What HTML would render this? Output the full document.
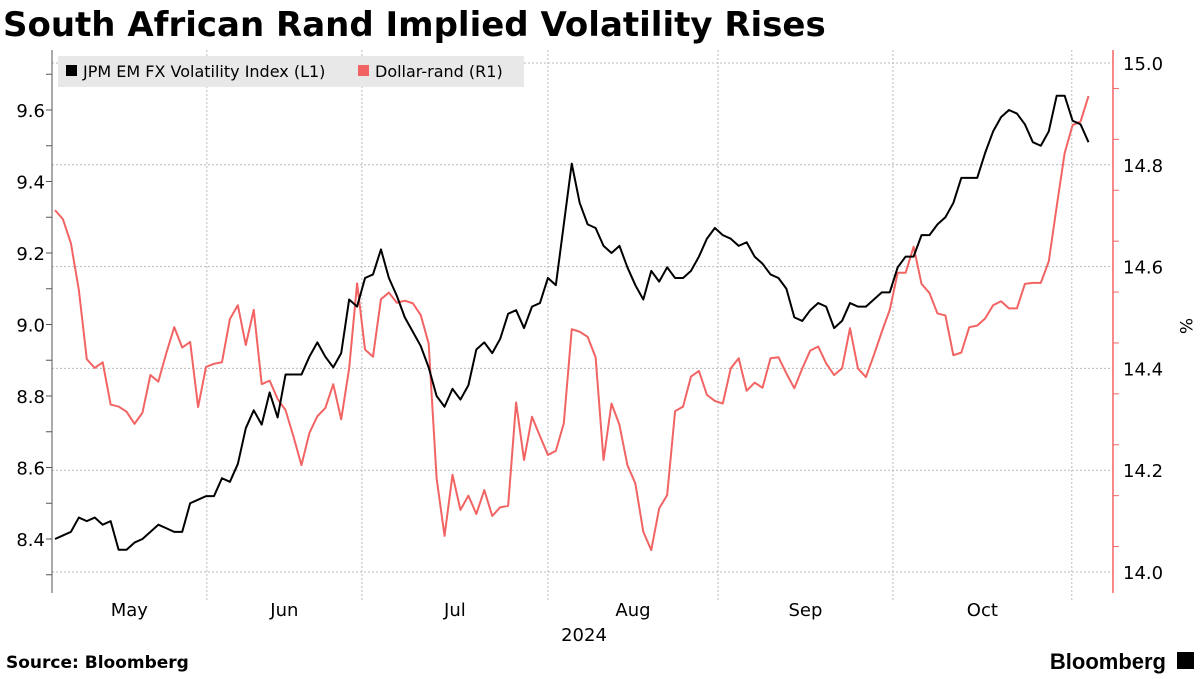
<!DOCTYPE html>
<html><head><meta charset="utf-8"><style>
body{margin:0;background:#fff;width:1200px;height:675px;overflow:hidden;font-family:"DejaVu Sans",sans-serif}
</style></head><body>
<svg width="1200" height="675" xmlns="http://www.w3.org/2000/svg" font-family="DejaVu Sans, sans-serif">
<text x="3" y="36" font-size="34" font-weight="bold" fill="#000">South African Rand Implied Volatility Rises</text>
<g id="grid"></g>
<g id="axes"></g>
<rect x="58" y="56" width="466" height="31" fill="#e8e8e8"/>
<rect x="66" y="65" width="11" height="11" fill="#000"/>
<text x="83" y="77" font-size="16" fill="#000">JPM EM FX Volatility Index (L1)</text>
<rect x="358" y="65" width="11" height="11" fill="#f26464"/>
<text x="375" y="77" font-size="16" fill="#000">Dollar-rand (R1)</text>
<g id="series"></g>
<text x="584" y="641" font-size="18" text-anchor="middle">2024</text>
<text x="1180" y="326" font-size="17" text-anchor="middle" transform="rotate(90 1180 326)">%</text>
<text x="6" y="668" font-size="17" font-weight="bold">Source: Bloomberg</text>
<text x="1166" y="669" font-size="22" font-weight="bold" text-anchor="end" font-family="Liberation Sans, sans-serif">Bloomberg</text>
<rect x="1177" y="652" width="17" height="17" fill="#000"/>
</svg>
<script>
const jpm=[8.40,8.41,8.42,8.46,8.45,8.46,8.44,8.45,8.37,8.37,8.39,8.40,8.42,8.44,8.43,8.42,8.42,8.50,8.51,8.52,8.52,8.57,8.56,8.61,8.71,8.76,8.72,8.81,8.74,8.86,8.86,8.86,8.91,8.95,8.91,
8.88,8.92,9.07,9.05,9.13,9.14,9.21,9.13,9.08,9.02,8.98,8.94,8.88,8.80,8.77,8.82,8.79,8.83,8.93,8.95,8.92,8.96,9.03,9.04,8.99,9.05,9.06,9.13,9.11,9.28,9.45,9.34,9.28,9.27,
9.22,9.20,9.22,9.16,9.11,9.07,9.15,9.12,9.16,9.13,9.13,9.15,9.19,9.24,9.27,9.25,9.24,9.22,9.23,9.19,9.17,9.14,9.13,9.10,9.02,9.01,9.04,9.06,9.05,8.99,9.01,9.06,9.05,9.05,
9.07,9.09,9.09,9.16,9.19,9.19,9.25,9.25,9.28,9.30,9.34,9.41,9.41,9.41,9.48,9.54,9.58,9.60,9.59,9.56,9.51,9.50,9.54,9.64,9.64,9.57,9.56,9.51];
const rand=[14.711,14.693,14.646,14.554,14.418,14.401,14.412,14.329,14.325,14.315,14.291,14.313,14.387,14.374,14.430,14.481,14.441,14.452,14.324,14.403,14.409,14.412,14.497,14.524,14.446,14.515,14.369,14.376,14.340,14.318,14.266,14.210,14.273,14.306,14.322,
14.369,14.300,14.400,14.567,14.437,14.423,14.536,14.549,14.529,14.533,14.528,14.505,14.449,14.184,14.071,14.191,14.122,14.150,14.114,14.161,14.110,14.127,14.130,14.333,14.220,14.305,14.267,14.230,14.238,14.292,14.477,14.472,14.462,14.422,
14.220,14.331,14.289,14.210,14.174,14.079,14.043,14.125,14.151,14.316,14.325,14.384,14.395,14.348,14.336,14.331,14.400,14.420,14.356,14.372,14.362,14.420,14.422,14.390,14.361,14.400,14.435,14.443,14.410,14.387,14.400,14.479,14.400,14.383,
14.426,14.472,14.515,14.588,14.588,14.639,14.566,14.548,14.508,14.504,14.426,14.431,14.481,14.484,14.498,14.524,14.532,14.518,14.518,14.566,14.568,14.568,14.610,14.718,14.823,14.878,14.885,14.935];
const leftTicks=[8.4,8.6,8.8,9.0,9.2,9.4,9.6];
const rightTicks=[14.0,14.2,14.4,14.6,14.8,15.0];
const monthLabels=["May","Jun","Jul","Aug","Sep","Oct"];
const monthBounds=[-0.4,19.1,38.6,62.0,83.4,105.4,127.9];

const X0=55,DX=7.95;
const x=i=>X0+i*DX;
const yL=v=>110+(9.6-v)*357.5;
const yR=v=>63+(15.0-v)*509;
const NS="http://www.w3.org/2000/svg";
function mk(tag,attrs,parent,txt){const e=document.createElementNS(NS,tag);for(const k in attrs)e.setAttribute(k,attrs[k]);if(txt!==undefined)e.textContent=txt;document.getElementById(parent).appendChild(e);return e;}
rightTicks.forEach(t=>{const g=mk('line',{x1:52,x2:1113,y1:yR(t),y2:yR(t),stroke:'#bbb','stroke-dasharray':'2,2','stroke-width':1},'grid');

});
monthBounds.slice(1).forEach(b=>{const g=mk('line',{x1:x(b),x2:x(b),y1:50,y2:600,stroke:'#bbb','stroke-dasharray':'2,2','stroke-width':1},'grid');

});
let a=mk('line',{x1:52,x2:52,y1:50,y2:593,stroke:'#555','stroke-width':1},'axes');


for(let v=8.3;v<=9.85;v+=0.1){const yy=yL(v);if(yy<50||yy>593)continue;const t=mk('line',{x1:46,x2:52,y1:yy,y2:yy,stroke:'#555','stroke-width':1},'axes');

}
leftTicks.forEach(v=>{const t=mk('text',{x:45,y:yL(v)+7,'font-size':18,'text-anchor':'end',fill:'#000'},'axes',v.toFixed(1));

});
a=mk('line',{x1:1113,x2:1113,y1:50,y2:593,stroke:'#f26464','stroke-width':1.5},'axes');


for(let v=13.95;v<=15.05;v+=0.1){const yy=yR(v);if(yy<50||yy>593)continue;const t=mk('line',{x1:1113,x2:1119,y1:yy,y2:yy,stroke:'#f26464','stroke-width':1},'axes');

}
rightTicks.forEach(v=>{const t=mk('text',{x:1123,y:yR(v)+7,'font-size':18,fill:'#000'},'axes',v.toFixed(1));

});
monthLabels.forEach((m,i)=>{const cx=(x(monthBounds[i])+x(monthBounds[i+1]))/2;const t=mk('text',{x:cx,y:616,'font-size':18,'text-anchor':'middle'},'axes',m);

});
let p=mk('polyline',{points:rand.map((v,i)=>x(i)+','+yR(v)).join(' '),fill:'none',stroke:'#f26464','stroke-width':2,'stroke-linejoin':'round'},'series');


p=mk('polyline',{points:jpm.map((v,i)=>x(i)+','+yL(v)).join(' '),fill:'none',stroke:'#000','stroke-width':2,'stroke-linejoin':'round'},'series');


</script>
</body></html>
